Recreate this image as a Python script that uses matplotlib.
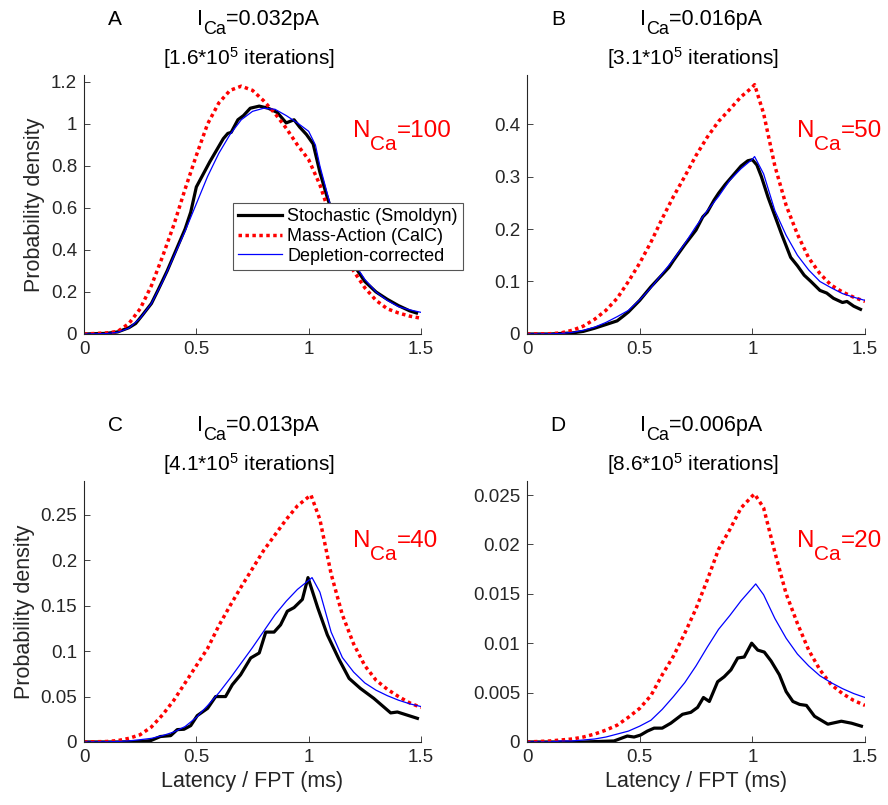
import matplotlib.pyplot as plt
from matplotlib.ticker import FuncFormatter
from matplotlib.transforms import offset_copy

plt.rcParams["font.family"] = "Liberation Sans"
plt.rcParams["mathtext.default"] = "regular"

# ---- panel A : I_Ca = 0.032 pA, N_Ca = 100 ----
x_sto_a = [0, 0.1, 0.15, 0.2, 0.23, 0.26, 0.3, 0.33, 0.37, 0.41, 0.45, 0.475, 0.5, 0.53,
           0.56, 0.59, 0.62, 0.64, 0.655, 0.685, 0.71, 0.74, 0.78, 0.82, 0.86, 0.9, 0.935,
           0.96, 0.99, 1.02, 1.05, 1.08, 1.11, 1.15, 1.2, 1.25, 1.3, 1.35, 1.4, 1.45, 1.48]
sto_a = [0, 0.003, 0.01, 0.03, 0.05, 0.09, 0.145, 0.21, 0.30, 0.40, 0.50, 0.58, 0.70, 0.76,
         0.82, 0.875, 0.93, 0.955, 0.96, 1.02, 1.04, 1.075, 1.085, 1.075, 1.055, 1.005, 1.02,
         0.985, 0.95, 0.905, 0.77, 0.66, 0.56, 0.44, 0.33, 0.25, 0.2, 0.165, 0.135, 0.11, 0.1]
x_ma_a = [0, 0.1, 0.15, 0.2, 0.25, 0.3, 0.35, 0.4, 0.45, 0.5, 0.55, 0.6, 0.65, 0.7, 0.75,
          0.8, 0.85, 0.9, 0.95, 1.0, 1.05, 1.1, 1.15, 1.2, 1.25, 1.3, 1.35, 1.4, 1.45, 1.5]
ma_a = [0, 0.005, 0.012, 0.05, 0.12, 0.23, 0.37, 0.52, 0.69, 0.85, 1.0, 1.1, 1.16, 1.18,
        1.16, 1.11, 1.05, 0.98, 0.9, 0.83, 0.71, 0.55, 0.41, 0.3, 0.22, 0.16, 0.12, 0.1,
        0.085, 0.075]
x_dc_a = [0, 0.1, 0.15, 0.2, 0.25, 0.3, 0.35, 0.4, 0.45, 0.5, 0.55, 0.6, 0.65, 0.7, 0.75,
          0.8, 0.85, 0.9, 0.95, 1.0, 1.03, 1.05, 1.1, 1.15, 1.2, 1.25, 1.3, 1.35, 1.4, 1.45,
          1.5]
dc_a = [0, 0.002, 0.008, 0.028, 0.075, 0.145, 0.25, 0.37, 0.49, 0.62, 0.75, 0.86, 0.95,
        1.02, 1.06, 1.075, 1.07, 1.04, 1.005, 0.965, 0.9, 0.8, 0.6, 0.45, 0.34, 0.26, 0.2,
        0.16, 0.13, 0.115, 0.103]

# ---- panel B : I_Ca = 0.016 pA, N_Ca = 50 ----
x_sto_b = [0, 0.1, 0.2, 0.25, 0.3, 0.35, 0.4, 0.43, 0.45, 0.5, 0.55, 0.6, 0.63, 0.65, 0.7,
           0.75, 0.78, 0.8, 0.83, 0.85, 0.88, 0.9, 0.93, 0.95, 0.98, 1.0, 1.02, 1.04, 1.07,
           1.1, 1.13, 1.17, 1.2, 1.23, 1.26, 1.3, 1.33, 1.36, 1.4, 1.42, 1.45, 1.48]
sto_b = [0, 0, 0.002, 0.005, 0.011, 0.018, 0.025, 0.035, 0.042, 0.064, 0.09, 0.113, 0.127,
         0.14, 0.17, 0.198, 0.223, 0.232, 0.255, 0.268, 0.285, 0.295, 0.31, 0.32, 0.33,
         0.332, 0.322, 0.3, 0.26, 0.225, 0.19, 0.146, 0.13, 0.112, 0.1, 0.083, 0.078, 0.068,
         0.06, 0.062, 0.053, 0.047]
x_ma_b = [0, 0.1, 0.15, 0.2, 0.25, 0.3, 0.35, 0.4, 0.45, 0.5, 0.55, 0.6, 0.65, 0.7, 0.75,
          0.8, 0.85, 0.9, 0.95, 1.0, 1.01, 1.05, 1.1, 1.15, 1.2, 1.25, 1.3, 1.35, 1.4, 1.45,
          1.5]
ma_b = [0, 0.0005, 0.002, 0.007, 0.015, 0.028, 0.045, 0.068, 0.1, 0.135, 0.175, 0.22, 0.262,
        0.3, 0.34, 0.375, 0.405, 0.428, 0.452, 0.47, 0.475, 0.42, 0.32, 0.245, 0.19, 0.145,
        0.115, 0.093, 0.08, 0.07, 0.062]
x_dc_b = x_ma_b
dc_b = [0, 0.0003, 0.001, 0.003, 0.007, 0.013, 0.022, 0.033, 0.045, 0.065, 0.088, 0.115,
        0.142, 0.172, 0.205, 0.235, 0.262, 0.293, 0.315, 0.333, 0.338, 0.305, 0.235, 0.188,
        0.15, 0.122, 0.1, 0.088, 0.077, 0.07, 0.064]

# ---- panel C : I_Ca = 0.013 pA, N_Ca = 40 ----
x_sto_c = [0, 0.15, 0.25, 0.297, 0.34, 0.386, 0.415, 0.445, 0.475, 0.504, 0.55, 0.586, 0.63,
           0.66, 0.697, 0.742, 0.78, 0.809, 0.846, 0.875, 0.905, 0.935, 0.972, 0.997, 1.04,
           1.083, 1.135, 1.18, 1.23, 1.29, 1.365, 1.395, 1.484]
sto_c = [0, 0, 0.0005, 0.0015, 0.006, 0.007, 0.0136, 0.014, 0.018, 0.029, 0.037, 0.05, 0.05,
         0.063, 0.074, 0.0925, 0.098, 0.121, 0.121, 0.129, 0.144, 0.148, 0.157, 0.181,
         0.148, 0.118, 0.091, 0.07, 0.059, 0.048, 0.032, 0.033, 0.026]
x_ma_c = x_ma_b
ma_c = [0, 0.0005, 0.0015, 0.004, 0.008, 0.0165, 0.03, 0.046, 0.065, 0.084, 0.103, 0.128,
        0.15, 0.171, 0.191, 0.211, 0.228, 0.245, 0.26, 0.27, 0.272, 0.245, 0.185, 0.14,
        0.108, 0.084, 0.068, 0.058, 0.05, 0.043, 0.038]
x_dc_c = [0, 0.1, 0.15, 0.2, 0.25, 0.3, 0.35, 0.4, 0.45, 0.5, 0.55, 0.6, 0.65, 0.7, 0.75,
          0.8, 0.85, 0.9, 0.95, 1.0, 1.015, 1.05, 1.1, 1.15, 1.2, 1.25, 1.3, 1.35, 1.4, 1.45,
          1.5]
dc_c = [0, 0.0002, 0.0005, 0.0012, 0.0025, 0.004, 0.007, 0.011, 0.017, 0.027, 0.04, 0.054,
        0.07, 0.087, 0.104, 0.122, 0.14, 0.155, 0.168, 0.178, 0.181, 0.165, 0.121, 0.093,
        0.077, 0.065, 0.057, 0.051, 0.046, 0.042, 0.039]

# ---- panel D : I_Ca = 0.006 pA, N_Ca = 20 ----
x_sto_d = [0, 0.25, 0.386, 0.445, 0.475, 0.504, 0.534, 0.564, 0.6, 0.638, 0.69, 0.727,
           0.757, 0.783, 0.809, 0.846, 0.875, 0.905, 0.935, 0.964, 0.997, 1.024, 1.053,
           1.083, 1.12, 1.15, 1.18, 1.21, 1.24, 1.276, 1.335, 1.395, 1.44, 1.484]
sto_d = [0, 0, 0.0001, 0.0006, 0.0005, 0.0007, 0.0011, 0.0014, 0.0014, 0.0019, 0.0028,
         0.003, 0.0035, 0.0045, 0.0041, 0.0061, 0.0066, 0.0073, 0.0085, 0.0086, 0.01,
         0.0093, 0.0091, 0.0082, 0.0068, 0.0051, 0.0041, 0.0038, 0.0037, 0.0026, 0.0018,
         0.0021, 0.0019, 0.0016]
x_ma_d = x_ma_b
ma_d = [0, 0.0001, 0.0002, 0.0003, 0.0005, 0.0008, 0.0012, 0.0017, 0.0025, 0.0034, 0.0047,
        0.0068, 0.0087, 0.011, 0.0135, 0.0164, 0.0195, 0.0215, 0.0237, 0.0249, 0.0251,
        0.0237, 0.0192, 0.015, 0.012, 0.0093, 0.0073, 0.0058, 0.0049, 0.0042, 0.0037]
x_dc_d = x_dc_c
dc_d = [0, 0, 0.0001, 0.0001, 0.0002, 0.0003, 0.0005, 0.0008, 0.0011, 0.0016, 0.0022,
        0.0033, 0.0046, 0.006, 0.0077, 0.0096, 0.0114, 0.0128, 0.0143, 0.0156, 0.016,
        0.0149, 0.0125, 0.0105, 0.0089, 0.0077, 0.0067, 0.006, 0.0054, 0.0049, 0.0045]

letters = ["A", "B", "C", "D"]
currents = ["0.032", "0.016", "0.013", "0.006"]
iterations = ["1.6", "3.1", "4.1", "8.6"]
n_ca = ["100", "50", "40", "20"]
y_tops = [1.233, 0.4933, 0.2874, 0.02642]
y_ticks = [[0, 0.2, 0.4, 0.6, 0.8, 1, 1.2],
           [0, 0.1, 0.2, 0.3, 0.4],
           [0, 0.05, 0.1, 0.15, 0.2, 0.25],
           [0, 0.005, 0.01, 0.015, 0.02, 0.025]]

curves = [
    (x_sto_a, sto_a, x_ma_a, ma_a, x_dc_a, dc_a),
    (x_sto_b, sto_b, x_ma_b, ma_b, x_dc_b, dc_b),
    (x_sto_c, sto_c, x_ma_c, ma_c, x_dc_c, dc_c),
    (x_sto_d, sto_d, x_ma_d, ma_d, x_dc_d, dc_d),
]

# axes rectangles [left, bottom, width, height] in figure fractions
rects = [
    [0.0946, 0.5851, 0.3795, 0.3217],
    [0.5935, 0.5851, 0.3806, 0.3217],
    [0.0946, 0.0783, 0.3795, 0.3242],
    [0.5935, 0.0783, 0.3806, 0.3242],
]

axis_color = "#262626"
fig = plt.figure(figsize=(8.88, 8.05), dpi=100)
renderer = fig.canvas.get_renderer()


def rich_text(ax, x, y, parts, ha="left", color="black"):
    """Lay out (string, fontsize, baseline shift in px) pieces side by side."""
    widths = []
    for s, fs, dy in parts:
        t = ax.text(0, 0, s, fontsize=fs)
        widths.append(t.get_window_extent(renderer).width)
        t.remove()
    off = -sum(widths) / 2 if ha == "center" else 0
    for (s, fs, dy), w in zip(parts, widths):
        tr = offset_copy(ax.transAxes, fig=fig, x=off, y=dy, units="dots")
        ax.text(x, y, s, fontsize=fs, transform=tr, ha="left", va="baseline",
                color=color)
        off += w


for i in range(4):
    ax = fig.add_axes(rects[i])
    xs, ys, xm, ym, xd, yd = curves[i]
    ax.plot(xs, ys, color="black", lw=2.3, label="Stochastic (Smoldyn)")
    ax.plot(xm, ym, color="#ff0000", lw=2.5, linestyle=(0, (1, 1)),
            label="Mass-Action (CalC)")
    ax.plot(xd, yd, color="#0000ff", lw=0.9, label="Depletion-corrected")

    ax.set_xlim(0, 1.5)
    ax.set_ylim(0, y_tops[i])
    ax.set_xticks([0, 0.5, 1, 1.5])
    ax.set_yticks(y_ticks[i])
    fmt = FuncFormatter(lambda v, p: "%g" % round(v, 6))
    ax.xaxis.set_major_formatter(fmt)
    ax.yaxis.set_major_formatter(fmt)
    ax.tick_params(direction="in", length=4, width=0.6, color=axis_color,
                   labelcolor=axis_color, labelsize=13.5, pad=5)
    for side in ["top", "right"]:
        ax.spines[side].set_visible(False)
    for side in ["left", "bottom"]:
        ax.spines[side].set_color(axis_color)
        ax.spines[side].set_linewidth(0.8)

    if i in (0, 2):
        ax.set_ylabel("Probability density", fontsize=15.5, color=axis_color,
                      labelpad=4)
    if i in (2, 3):
        ax.set_xlabel("Latency / FPT (ms)", fontsize=15.5, color=axis_color,
                      labelpad=4)

    # panel letter and two-line title
    h_px = rects[i][3] * 805
    y1 = 1 + 50 / h_px
    y2 = 1 + 10 / h_px
    ax.text(0.092, y1, letters[i], transform=ax.transAxes, fontsize=15,
            ha="center", va="baseline")
    rich_text(ax, 0.516, y1,
              [("I", 15.5, 0), ("Ca", 13, -9), ("=" + currents[i] + "pA", 15.5, 0)],
              ha="center")
    ax.text(0.49, y2, "[" + iterations[i] + "*10$^5$ iterations]",
            transform=ax.transAxes, fontsize=15, ha="center", va="baseline")

    # number of channels, red label inside the panel
    y_n = 0.76 if i < 2 else 0.747
    rich_text(ax, 0.798, y_n,
              [("N", 17.5, 0), ("Ca", 15, -13), ("=" + n_ca[i], 17.5, 0)],
              color="#ff0000")

    if i == 0:
        leg = ax.legend(loc="upper left", bbox_to_anchor=(0.442, 0.506),
                        borderaxespad=0, fontsize=13, frameon=True, fancybox=False,
                        framealpha=1, edgecolor="#555555", handlelength=2.4,
                        handletextpad=0.3, labelspacing=0.15, borderpad=0.3)
        leg.get_frame().set_linewidth(0.8)

fig.savefig("out.png", dpi=100, facecolor="white")
